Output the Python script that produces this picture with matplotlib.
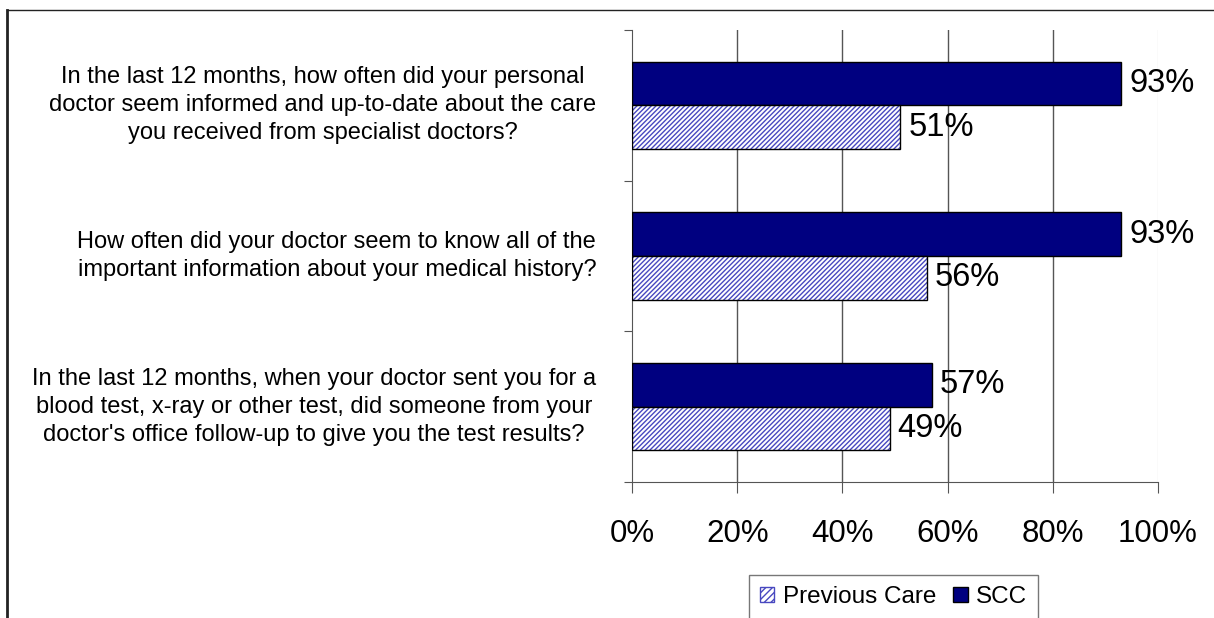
import matplotlib
matplotlib.use("Agg")
import matplotlib.pyplot as plt
from matplotlib.lines import Line2D
from matplotlib.patches import Patch
import numpy as np

questions = [
    "In the last 12 months, how often did your personal\ndoctor seem informed and up-to-date about the care\nyou received from specialist doctors?",
    "How often did your doctor seem to know all of the\nimportant information about your medical history?",
    "In the last 12 months, when your doctor sent you for a\nblood test, x-ray or other test, did someone from your\ndoctor's office follow-up to give you the test results?",
]
scc = [93, 93, 57]
previous = [51, 56, 49]
xticks = [0, 20, 40, 60, 80, 100]
xticklabels = ["0%", "20%", "40%", "60%", "80%", "100%"]

plt.rcParams['font.family'] = ['Liberation Sans', 'DejaVu Sans']
plt.rcParams['hatch.linewidth'] = 1.0

W, H = 1214, 618
fig = plt.figure(figsize=(W / 100, H / 100), dpi=100)

ax = fig.add_axes([632 / W, 1 - 482 / H, (1158 - 632) / W, (482 - 30) / H])

n = len(questions)
ypos = np.arange(n)  # 0 top
bh = 0.29
navy = '#000080'
hatch_col = '#4848c0'
hatch = '///////'

ax.barh(ypos - bh / 2, scc, height=bh, color=navy, edgecolor='black', linewidth=1, zorder=3)
ax.barh(ypos + bh / 2, previous, height=bh, color='white', edgecolor=hatch_col, hatch=hatch, linewidth=0, zorder=3)
ax.barh(ypos + bh / 2, previous, height=bh, fill=False, edgecolor='black', linewidth=1, zorder=4)

for i in range(n):
    ax.text(scc[i] + 1.5, ypos[i] - bh / 2, f"{scc[i]}%", va='center', ha='left', fontsize=23.5)
    ax.text(previous[i] + 1.5, ypos[i] + bh / 2, f"{previous[i]}%", va='center', ha='left', fontsize=23.5)
    ax.text(-6.8, ypos[i], questions[i], ha='right', va='center', multialignment='center',
            fontsize=17, linespacing=1.36, transform=ax.transData)

ax.set_xlim(0, 100)
ax.set_ylim(n - 0.5, -0.5)
ax.set_xticks(xticks)
ax.set_xticklabels(xticklabels, fontsize=22.5)
ax.set_yticks(np.arange(-0.5, n, 1.0))
ax.set_yticklabels([])
ax.tick_params(axis='y', direction='out', length=6, color='#555555')
ax.tick_params(axis='x', direction='out', length=8, color='#555555', pad=19)

for x in xticks[1:-1]:
    ax.axvline(x, color='#555555', linewidth=1, zorder=1)
ax.axvline(100, color='#e6e6e6', linewidth=1, zorder=1)

for s in ['top', 'right']:
    ax.spines[s].set_visible(False)
ax.spines['left'].set_color('#555555')
ax.spines['bottom'].set_color('#555555')

# outer partial frame (top and left)
fig.add_artist(Line2D([7 / W, 7 / W], [0, 1 - 10 / H], transform=fig.transFigure, color='#222222', linewidth=2))
fig.add_artist(Line2D([7 / W, 1], [1 - 10 / H, 1 - 10 / H], transform=fig.transFigure, color='#222222', linewidth=1))

handles = [Patch(facecolor='white', edgecolor=hatch_col, hatch='/////', label='Previous Care'),
           Patch(facecolor=navy, edgecolor='black', label='SCC')]
leg = fig.legend(handles=handles, loc='center', bbox_to_anchor=(893.5 / W, 1 - 597 / H), ncol=2,
                 fontsize=17.5, frameon=True, fancybox=False, edgecolor='#555555',
                 handlelength=0.6, handleheight=0.6, handletextpad=0.35, columnspacing=0.7,
                 borderpad=0.45, borderaxespad=0)
leg.get_frame().set_linewidth(1)

fig.savefig("out.png", dpi=100)
